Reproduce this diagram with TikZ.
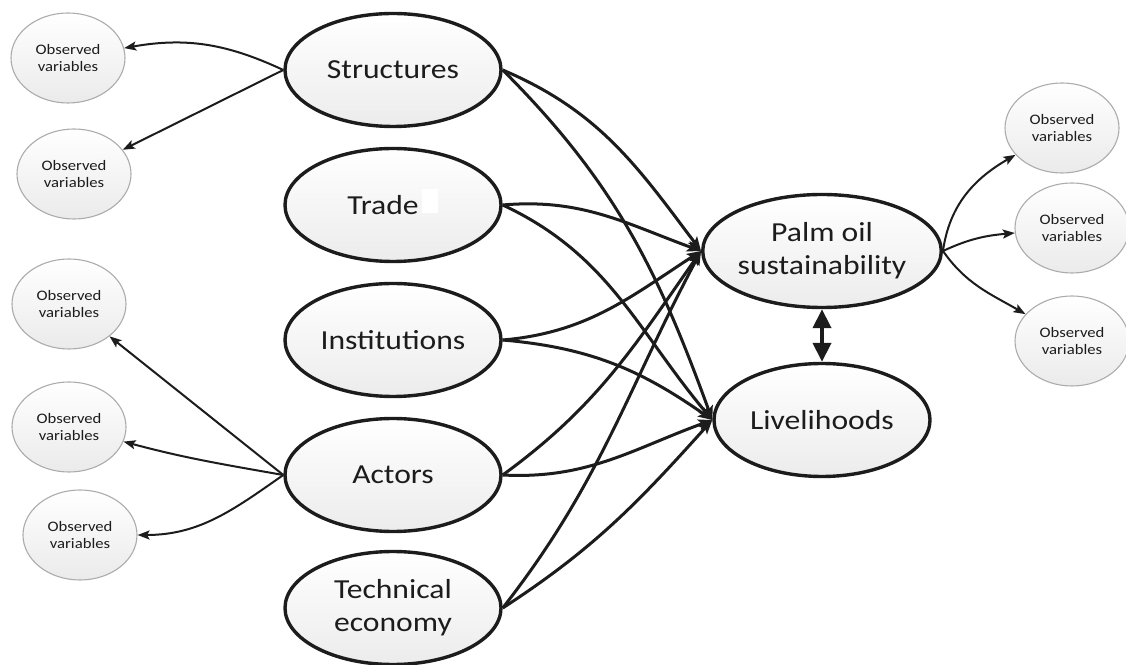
\documentclass[tikz,border=0pt]{standalone}
\usepackage{fontspec}
\setmainfont{Carlito}[FakeStretch=1.15]
\usetikzlibrary{arrows.meta,shapes.geometric}
\definecolor{ink}{HTML}{1C1C1C}
\begin{document}
\begin{tikzpicture}[x=1pt,y=1pt,
  latent/.style={ellipse, draw=ink, line width=3.4pt, top color=white, bottom color=gray!15,
    minimum width=216pt, minimum height=113pt, inner sep=0pt, align=center,
    font=\fontsize{27.5}{33}\selectfont, text=ink},
  observed/.style={ellipse, draw=gray!65, line width=1.1pt, top color=white, bottom color=gray!16,
    minimum width=114pt, minimum height=90pt, inner sep=0pt, align=center,
    font=\fontsize{14.5}{17}\selectfont, text=ink},
  link/.style={draw=ink, line width=3pt, -{Stealth[length=14pt,width=11pt,inset=3pt]}},
  load/.style={draw=ink, line width=2pt, -{Stealth[length=12pt,width=9pt,inset=2.5pt]}}]
\useasboundingbox (0,0) rectangle (1126,664);

% latent constructs
\node[latent] (S) at (393,594) {Structures};
\node[latent] (T) at (393,459) {Trade\kern20pt};
\node[latent] (I) at (393,324) {Institutions};
\node[latent] (A) at (393,189) {Actors};
\node[latent] (E) at (393,56)  {Technical\\economy};
\node[latent] (P) at (822,413) {Palm oil\\sustainability};
\node[latent] (L) at (822,244) {Livelihoods};
\fill[white] (422,451) rectangle (438,475);

% indicators
\node[observed] (o1) at (68,606)  {Observed\\variables};
\node[observed] (o2) at (74,490)  {Observed\\variables};
\node[observed] (o3) at (69,360)  {Observed\\variables};
\node[observed] (o4) at (69,237)  {Observed\\variables};
\node[observed] (o5) at (80,129)  {Observed\\variables};
\node[observed] (r1) at (1062,536) {Observed\\variables};
\node[observed] (r2) at (1072,436) {Observed\\variables};
\node[observed] (r3) at (1072,323) {Observed\\variables};

% measurement paths
\draw[load] (S.west) to[out=155,in=10] (o1);
\draw[load] (S.west) -- (o2);
\draw[load] (A.west) -- (o3);
\draw[load] (A.west) to[out=170,in=-15] (o4);
\draw[load] (A.west) to[out=215,in=0] (o5);
\draw[load] (P.east) to[out=82,in=210] (r1);
\draw[load] (P.east) to[out=25,in=185] (r2);
\draw[load] (P.east) to[out=-55,in=150] (r3);

% structural paths
\draw[link] (S.east) to[out=-23,in=127] (P.west);
\draw[link] (S.east) to[out=-45,in=110] (L.west);
\draw[link] (T.east) to[out=5,in=160] (P.west);
\draw[link] (T.east) to[out=-25,in=130] (L.west);
\draw[link] (I.east) to[out=5,in=213] (P.west);
\draw[link] (I.east) to[out=-5,in=145] (L.west);
\draw[link] (A.east) to[out=36,in=235] (P.west);
\draw[link] (A.east) to[out=-3,in=200] (L.west);
\draw[link] (E.east) to[out=52,in=242] (P.west);
\draw[link] (E.east) to[out=33,in=228] (L.west);

% correlation
\draw[draw=ink, line width=4pt, {Triangle[length=19pt,width=18pt]}-{Triangle[length=19pt,width=18pt]}] (P.south) -- (L.north);
\end{tikzpicture}
\end{document}
